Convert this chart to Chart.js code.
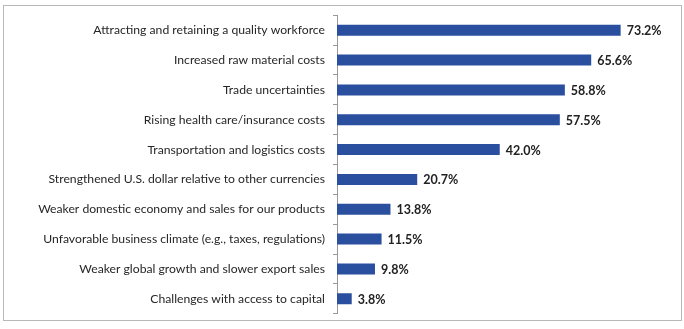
<!DOCTYPE html>
<html>
<head>
<meta charset="utf-8">
<script src="https://cdn.jsdelivr.net/npm/chart.js@4"></script>
<style>
  body { margin: 0; background: #fff; }
  #frame { position: absolute; left: 3px; top: 5px; width: 677px; height: 314px; border: 1px solid #b8b8b8; }
  #wrap { position: absolute; left: 0; top: 0; width: 684px; height: 329px; }
</style>
</head>
<body>
<div id="frame"></div>
<div id="wrap"><canvas id="chart" width="684" height="329"></canvas></div>
<script>
const categories = [
  "Attracting and retaining a quality workforce",
  "Increased raw material costs",
  "Trade uncertainties",
  "Rising health care/insurance costs",
  "Transportation and logistics costs",
  "Strengthened U.S. dollar relative to other currencies",
  "Weaker domestic economy and sales for our products",
  "Unfavorable business climate (e.g., taxes, regulations)",
  "Weaker global growth and slower export sales",
  "Challenges with access to capital"
];
const values = [73.2, 65.6, 58.8, 57.5, 42.0, 20.7, 13.8, 11.5, 9.8, 3.8];

const FONT = "Lato, 'Open Sans', sans-serif";

// draws "73.2%" style labels at the end of each bar
const valueLabels = {
  id: "valueLabels",
  afterDatasetsDraw(chart) {
    const ctx = chart.ctx;
    const meta = chart.getDatasetMeta(0);
    ctx.save();
    ctx.font = "bold 12.5px " + FONT;
    ctx.fillStyle = "#222";
    ctx.textAlign = "left";
    ctx.textBaseline = "middle";
    meta.data.forEach((bar, i) => {
      ctx.fillText(values[i].toFixed(1) + "%", bar.x + 6, bar.y + 1);
    });
    ctx.restore();
  }
};

const config = {
  type: "bar",
  data: {
    labels: categories,
    datasets: [
      {
        data: values,
        backgroundColor: "#2a4f9f",
        borderWidth: 0,
        categoryPercentage: 1,
        barPercentage: 0.37,
      },
    ],
  },
  options: {
    indexAxis: "y",
    responsive: false,
    animation: false,
    layout: { padding: { top: 14, bottom: 11, right: 37, left: 0 } },
    plugins: { legend: { display: false }, tooltip: { enabled: false } },
    scales: {
      x: { display: false, min: 0, max: 80 },
      y: {
        afterFit: (s) => { s.width = 337; },
        grid: { offset: true, drawOnChartArea: false, tickLength: 4, color: "#999" },
        border: { display: true, color: "#999" },
        ticks: { padding: 8, color: "#262626", font: { family: FONT, size: 12.2 } },
      },
    },
  },
  plugins: [valueLabels],
};
const chart = new Chart(document.getElementById("chart"), config);
</script>
</body>
</html>
